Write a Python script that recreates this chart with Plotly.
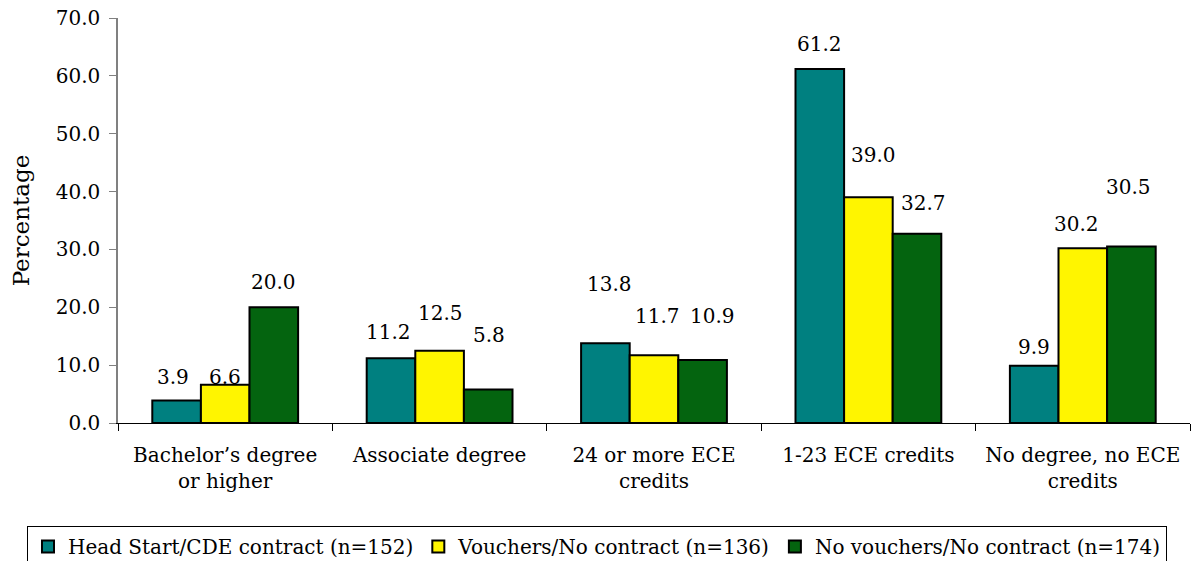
import plotly.graph_objects as go

categories = [
    "Bachelor’s degree<br>or higher",
    "Associate degree",
    "24 or more ECE<br>credits",
    "1-23 ECE credits",
    "No degree, no ECE<br>credits",
]
series_names = [
    "Head Start/CDE contract (n=152)",
    "Vouchers/No contract (n=136)",
    "No vouchers/No contract (n=174)",
]
head_start = [3.9, 11.2, 13.8, 61.2, 9.9]
vouchers = [6.6, 12.5, 11.7, 39.0, 30.2]
no_vouchers = [20.0, 5.8, 10.9, 32.7, 30.5]

series_values = [head_start, vouchers, no_vouchers]
colors = ["#008080", "#FFF500", "#04640F"]

# label offsets (px) from the bar top centre, like the hand-placed labels in the original
label_lift = [
    [23, 26, 59, 25, 19],
    [8, 38, 39, 42, 24],
    [25, 54, 44, 31, 60],
]
label_nudge = [
    [-4, -3, 4, 0, 0],
    [0, 1, 3, 5, -6],
    [0, 1, 10, 7, -3],
]

FONT = "DejaVu Serif"

# page body has an 8px margin, so the figure is a bit smaller than the window
W, H = 1195, 553
ML, MR, MT, MB = 110, 13, 10, 138
plot_w = W - ML - MR
plot_h = H - MT - MB

fig = go.Figure()
for name, vals, col in zip(series_names, series_values, colors):
    fig.add_trace(
        go.Bar(
            x=categories,
            y=vals,
            name=name,
            marker=dict(color=col, line=dict(color="black", width=2)),
        )
    )

# value labels
bar_w = plot_w / len(categories) * (1 - 0.32) / 3
for i, vals in enumerate(series_values):
    for j, v in enumerate(vals):
        fig.add_annotation(
            x=categories[j],
            y=v,
            xref="x",
            yref="y",
            text=f"{v:.1f}",
            showarrow=False,
            xshift=(i - 1) * bar_w + label_nudge[i][j],
            yshift=label_lift[i][j] - 14,
            yanchor="bottom",
            font=dict(family=FONT, size=20, color="black"),
        )

fig.update_layout(
    width=W,
    height=H,
    barmode="group",
    bargap=0.32,
    bargroupgap=0,
    paper_bgcolor="white",
    plot_bgcolor="white",
    font=dict(family=FONT, size=20, color="black"),
    margin=dict(l=ML, r=MR, t=MT, b=MB, autoexpand=False),
    legend=dict(
        orientation="h",
        x=(19 - ML) / plot_w,
        xanchor="left",
        y=-(518 - (MT + plot_h)) / plot_h,
        yanchor="top",
        bordercolor="black",
        borderwidth=1,
        font=dict(family=FONT, size=20),
        itemwidth=30,
        tracegroupgap=0,
    ),
)
fig.update_xaxes(
    automargin=False,
    showline=True,
    linecolor="black",
    linewidth=1,
    ticks="outside",
    tickson="boundaries",
    ticklen=7,
    tickcolor="black",
    showgrid=False,
    ticklabelstandoff=14,
    tickfont=dict(family=FONT, size=20),
)
fig.update_yaxes(
    automargin=False,
    range=[0, 70],
    dtick=10,
    tickformat=".1f",
    showline=True,
    linecolor="#808080",
    linewidth=1.5,
    ticks="outside",
    ticklen=7,
    tickcolor="#808080",
    showgrid=False,
    zeroline=False,
    ticklabelstandoff=5,
    ticklabeloverflow="allow",
    title=dict(text="Percentage", font=dict(family=FONT, size=23), standoff=20),
    tickfont=dict(family=FONT, size=20),
)

fig.write_html("out.html")
